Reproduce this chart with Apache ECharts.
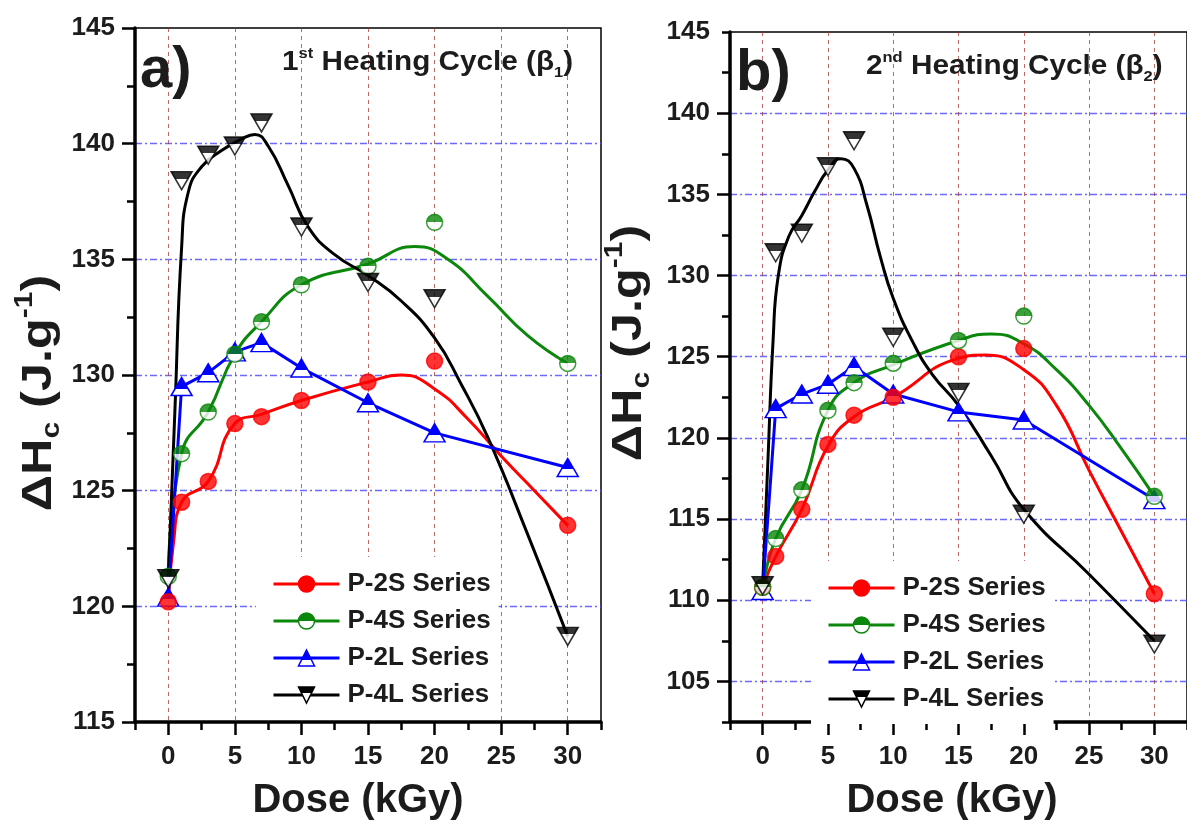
<!DOCTYPE html>
<html>
<head>
<meta charset="utf-8">
<script src="https://cdn.jsdelivr.net/npm/echarts@6/dist/echarts.min.js"></script>
<style>
  html, body { margin: 0; padding: 0; background: #ffffff; }
  #chart { width: 1187px; height: 824px; }
</style>
</head>
<body>
<div id="chart"></div>
<script>
// Crystallization enthalpy ΔHc vs. irradiation dose, two heating cycles.

const seriesNames = ['P-2S Series', 'P-4S Series', 'P-2L Series', 'P-4L Series'];
const doses = [0, 1, 3, 5, 7, 10, 15, 20, 30];
const doseTicks = [0, 5, 10, 15, 20, 25, 30];
const yTicksB = [105, 110, 115, 120, 125, 130, 135, 140, 145];

// Measured ΔHc (J/g), 1st heating cycle
const p2S_a = [120.2, 124.5, 125.4, 127.9, 128.2, 128.9, 129.7, 130.6, 123.5];
const p4S_a = [121.3, 126.6, 128.4, 130.9, 132.3, 133.9, 134.7, 136.6, 130.5];
const p2L_a = [120.4, 129.5, 130.1, 131.0, 131.4, 130.3, 128.8, 127.5, 126.0];
const p4L_a = [121.2, 138.4, 139.5, 139.9, 140.9, 136.4, 134.0, 133.3, 118.7];

// Measured ΔHc (J/g), 2nd heating cycle
const p2S_b = [110.8, 112.7, 115.6, 119.6, 121.4, 122.5, 125.0, 125.5, 110.4];
const p4S_b = [110.8, 113.8, 116.8, 121.7, 123.4, 124.6, 126.0, 127.5, 116.4];
const p2L_b = [110.6, 121.8, 122.7, 123.3, 124.4, 122.7, 121.6, 121.1, 116.2];
const p4L_b = [110.9, 131.4, 132.6, 136.7, 138.3, 126.2, 122.8, 115.3, 107.3];

// Fitted trend curves [dose, ΔHc], 1st heating cycle
const fit2S_a = [[0,120.2],[0.4,122.8],[1,124.5],[3,125.4],[5,127.9],[7,128.3],[10,128.9],[15,129.7],[17.5,130.0],[20,129.4],[22.5,128.1],[25,126.5],[27.5,125.0],[30,123.5]];
const fit4S_a = [[0,121.3],[1,126.6],[3,128.4],[5,130.9],[7,132.3],[10,133.9],[15,134.8],[18.5,135.55],[21,135.0],[24,133.4],[27,131.7],[30,130.5]];
const fit4L_a = [[0,121.2],[0.5,128.5],[1,135.5],[1.5,137.9],[2.5,139.0],[4,139.7],[5.5,140.2],[6.5,140.4],[7.5,139.9],[9,138.2],[10.5,136.4],[12.5,135.2],[15,134.3],[17.5,133.2],[20,131.6],[22,129.6],[24,127.3],[27,123.1],[30,118.7]];

// Fitted trend curves [dose, ΔHc], 2nd heating cycle
const fit2S_b = [[0,110.8],[1,112.7],[3,115.6],[5,119.5],[7,121.3],[10,122.5],[15,124.9],[17,125.1],[20,124.2],[22.5,122.0],[25,118.0],[27.5,114.2],[30,110.4]];
const fit4S_b = [[0,110.8],[1,113.8],[3,116.8],[5,121.7],[7,123.4],[10,124.5],[15,126.0],[17.5,126.4],[20,125.8],[22.5,124.2],[25,122.0],[27.5,119.3],[30,116.4]];
const fit4L_b = [[0,110.9],[0.4,118.5],[0.8,126.0],[1.2,130.0],[2,132.4],[3,133.7],[4,135.2],[5,136.5],[6,137.2],[7,136.6],[8,134.3],[9,131.2],[10,128.6],[11.5,125.9],[13,123.9],[15,122.0],[17.5,118.9],[20,115.6],[25,111.6],[30,107.5]];

const FONT = "'Liberation Sans', Arial, Helvetica, sans-serif";
const TXT = '#1c1c1c';
const RED = '#ff0000', GREEN = '#0b870b', BLUE = '#0000ff', BLACK = '#000000';

const pairs = (xs, ys) => xs.map((x, i) => [x, ys[i]]);

// top part filled with the series colour, lower part left white
function splitFill(color, cut) {
  return {
    type: 'linear', x: 0, y: 0, x2: 0, y2: 1,
    colorStops: [
      { offset: 0, color: color }, { offset: cut, color: color },
      { offset: cut, color: '#ffffff' }, { offset: 1, color: '#ffffff' }
    ]
  };
}

const TRI_UP = 'path://M10,0 L20,17 L0,17 Z';
const TRI_DOWN = 'path://M0,0 L20,0 L10,17 Z';

const styles = {
  'P-2S Series': { color: RED,   symbol: 'circle', size: 16, fill: RED },
  'P-4S Series': { color: GREEN, symbol: 'circle', size: 16, fill: splitFill(GREEN, 0.5) },
  'P-2L Series': { color: BLUE,  symbol: TRI_UP,   size: [21, 18], fill: splitFill(BLUE, 0.6) },
  'P-4L Series': { color: BLACK, symbol: TRI_DOWN, size: [21, 18], fill: splitFill(BLACK, 0.4) }
};

function itemStyleOf(name) {
  const s = styles[name];
  return { color: s.fill, borderColor: s.color, borderWidth: 1.5 };
}

// one fitted curve plus its measured markers
function curveSeries(name, panel, curve, values) {
  const s = styles[name];
  return [
    {
      type: 'line', name, xAxisIndex: panel, yAxisIndex: panel,
      data: curve, smooth: 0.5,
      showSymbol: false, symbol: s.symbol, symbolSize: s.size,
      itemStyle: itemStyleOf(name),
      lineStyle: { color: s.color, width: 3 }, z: 3
    },
    {
      type: 'scatter', name, xAxisIndex: panel, yAxisIndex: panel,
      data: pairs(doses, values), symbol: s.symbol, symbolSize: s.size,
      itemStyle: itemStyleOf(name), z: 5
    }
  ];
}

// straight segments joining the measured markers
function polySeries(name, panel, values) {
  const s = styles[name];
  return [{
    type: 'line', name, xAxisIndex: panel, yAxisIndex: panel,
    data: pairs(doses, values), smooth: false,
    showSymbol: true, showAllSymbol: true, symbol: s.symbol, symbolSize: s.size,
    itemStyle: itemStyleOf(name),
    lineStyle: { color: s.color, width: 3 }, z: 4
  }];
}

const axisLineStyle = { show: true, onZero: false, lineStyle: { color: '#000', width: 3.5 } };
const tickStyle = { color: '#000', width: 2.5 };
const labelStyle = { fontSize: 26, fontWeight: 'bold', fontFamily: FONT, color: TXT };
const hGrid = { color: 'rgba(80,80,255,0.85)', width: 1.3, type: [7, 3, 2, 3] };
const vGrid = { color: 'rgba(165,55,55,0.75)', width: 1, type: [4, 4] };

// x axis: scale ticks fall on the half steps, minor ticks on the labelled doses
function doseAxis(panel) {
  return {
    gridIndex: panel, type: 'value', min: -2.5, max: 32.5, interval: 5,
    axisLine: axisLineStyle,
    axisTick: { show: true, length: 8, lineStyle: tickStyle },
    minorTick: { show: true, splitNumber: 2, length: 13, lineStyle: tickStyle },
    axisLabel: Object.assign({ customValues: doseTicks, margin: 22 }, labelStyle),
    splitLine: { show: false },
    minorSplitLine: { show: true, lineStyle: vGrid }
  };
}

const subSup = {
  sup: { fontSize: 25, fontWeight: 'bold', fontFamily: FONT, fill: TXT, lineHeight: 25, verticalAlign: 'top' },
  sub: { fontSize: 25, fontWeight: 'bold', fontFamily: FONT, fill: TXT, lineHeight: 25, verticalAlign: 'bottom' }
};
const titleSubSup = {
  sup: { fontSize: 15, fontWeight: 'bold', fontFamily: FONT, fill: TXT, lineHeight: 15, verticalAlign: 'top' },
  sub: { fontSize: 15, fontWeight: 'bold', fontFamily: FONT, fill: TXT, lineHeight: 15, verticalAlign: 'bottom' }
};

const option = {
  animation: false,
  backgroundColor: '#ffffff',
  textStyle: { fontFamily: FONT },
  grid: [
    { left: 135, top: 28, width: 466, height: 694, show: true, borderColor: '#000', borderWidth: 1.5, backgroundColor: 'transparent' },
    { left: 730, top: 32, width: 467, height: 690, show: true, borderColor: '#000', borderWidth: 1.5, backgroundColor: 'transparent' }
  ],
  xAxis: [doseAxis(0), doseAxis(1)],
  yAxis: [
    {
      gridIndex: 0, type: 'value', min: 115, max: 145, interval: 5,
      axisLine: axisLineStyle,
      axisTick: { show: true, length: 13, lineStyle: tickStyle },
      minorTick: { show: true, splitNumber: 2, length: 8, lineStyle: tickStyle },
      axisLabel: Object.assign({ margin: 20 }, labelStyle),
      splitLine: { show: true, showMinLine: false, showMaxLine: false, lineStyle: hGrid },
      minorSplitLine: { show: false }
    },
    {
      gridIndex: 1, type: 'value', min: 102.5, max: 145, interval: 5,
      axisLine: axisLineStyle,
      axisTick: { show: true, length: 8, lineStyle: tickStyle },
      minorTick: { show: true, splitNumber: 2, length: 13, lineStyle: tickStyle },
      axisLabel: Object.assign({ customValues: yTicksB, margin: 20 }, labelStyle),
      splitLine: { show: false },
      minorSplitLine: { show: true, lineStyle: hGrid }
    }
  ],
  legend: [256, 811].map((left, i) => ({
    orient: 'vertical', left: left, top: i === 0 ? 557 : 561,
    padding: [14, 8, 12, 16], backgroundColor: '#ffffff',
    itemWidth: 66, itemHeight: 20, itemGap: 11, selectedMode: false,
    textStyle: { fontSize: 26, fontWeight: 'bold', fontFamily: FONT, color: TXT, padding: [0, 0, 0, 3] },
    data: seriesNames.map(n => ({ name: n, itemStyle: itemStyleOf(n), lineStyle: { color: styles[n].color, width: 3 } }))
  })),
  series: [].concat(
    curveSeries('P-2S Series', 0, fit2S_a, p2S_a),
    curveSeries('P-4S Series', 0, fit4S_a, p4S_a),
    polySeries('P-2L Series', 0, p2L_a),
    curveSeries('P-4L Series', 0, fit4L_a, p4L_a),
    curveSeries('P-2S Series', 1, fit2S_b, p2S_b),
    curveSeries('P-4S Series', 1, fit4S_b, p4S_b),
    polySeries('P-2L Series', 1, p2L_b),
    curveSeries('P-4L Series', 1, fit4L_b, p4L_b)
  ),
  graphic: [
    { type: 'text', x: 140, y: 71, z: 10, style: { text: 'a)', fontSize: 58, fontWeight: 'bold', fontFamily: FONT, fill: TXT, align: 'left', verticalAlign: 'middle' } },
    { type: 'text', x: 736, y: 74, z: 10, style: { text: 'b)', fontSize: 58, fontWeight: 'bold', fontFamily: FONT, fill: TXT, align: 'left', verticalAlign: 'middle' } },
    { type: 'text', x: 282, y: 63, scaleX: 1.1, z: 10, style: {
        text: '1{sup|st} Heating Cycle (β{sub|1})', fontSize: 27, fontWeight: 'bold', fontFamily: FONT, fill: TXT,
        lineHeight: 34, align: 'left', verticalAlign: 'middle', rich: titleSubSup } },
    { type: 'text', x: 866, y: 67, scaleX: 1.1, z: 10, style: {
        text: '2{sup|nd} Heating Cycle (β{sub|2})', fontSize: 27, fontWeight: 'bold', fontFamily: FONT, fill: TXT,
        lineHeight: 34, align: 'left', verticalAlign: 'middle', rich: titleSubSup } },
    { type: 'text', x: 39, y: 393, rotation: Math.PI / 2, scaleX: 1.2, z: 10, style: {
        text: 'ΔH{sub|c} (J.g{sup|-1})', fontSize: 42, fontWeight: 'bold', fontFamily: FONT, fill: TXT,
        lineHeight: 52, align: 'center', verticalAlign: 'middle', rich: subSup } },
    { type: 'text', x: 629, y: 343, rotation: Math.PI / 2, scaleX: 1.2, z: 10, style: {
        text: 'ΔH{sub|c} (J.g{sup|-1})', fontSize: 42, fontWeight: 'bold', fontFamily: FONT, fill: TXT,
        lineHeight: 52, align: 'center', verticalAlign: 'middle', rich: subSup } },
    { type: 'text', x: 358, y: 801, z: 10, style: { text: 'Dose (kGy)', fontSize: 40, fontWeight: 'bold', fontFamily: FONT, fill: TXT, align: 'center', verticalAlign: 'middle' } },
    { type: 'text', x: 952, y: 801, z: 10, style: { text: 'Dose (kGy)', fontSize: 40, fontWeight: 'bold', fontFamily: FONT, fill: TXT, align: 'center', verticalAlign: 'middle' } }
  ]
};

const chart = echarts.init(document.getElementById('chart'), null, { renderer: 'canvas' });
chart.setOption(option);
</script>
</body>
</html>
